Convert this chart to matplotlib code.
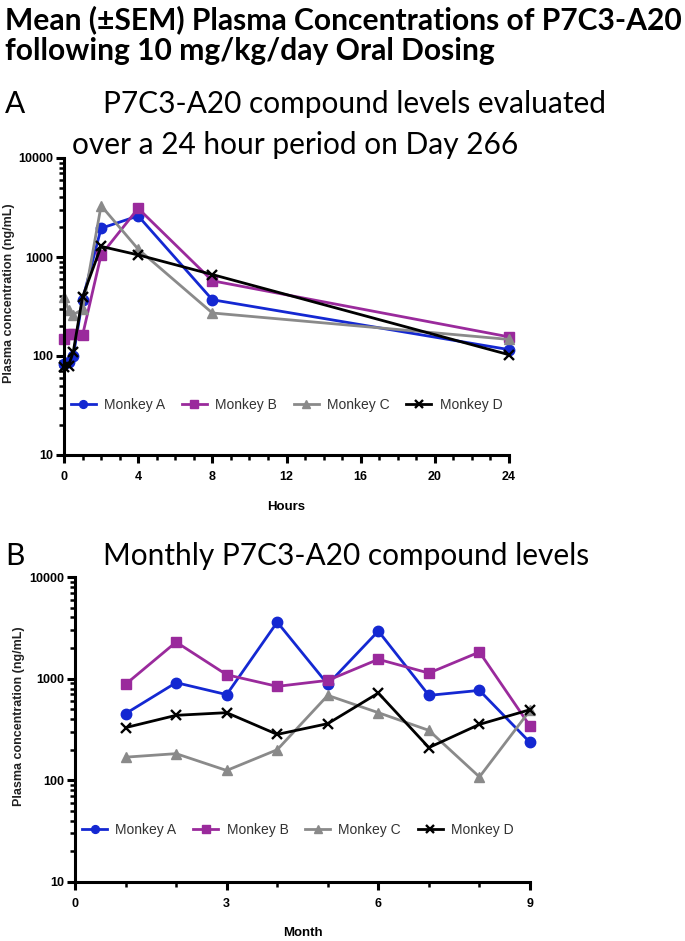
import matplotlib
matplotlib.use("Agg")
import matplotlib.pyplot as plt
from matplotlib.ticker import LogLocator, FixedLocator, NullFormatter, MultipleLocator

# ---------------- Data ----------------
monkeys = ["Monkey A", "Monkey B", "Monkey C", "Monkey D"]

hours = [0, 0.25, 0.5, 1, 2, 4, 8, 24]
pk_a = [83, 86, 100, 370, 1950, 2600, 370, 116]
pk_b = [150, 165, 165, 162, 1050, 3100, 575, 156]
pk_c = [390, 290, 262, 295, 3300, 1200, 272, 147]
pk_d = [78, 80, 110, 395, 1280, 1050, 665, 103]

months = [1, 2, 3, 4, 5, 6, 7, 8, 9]
mo_a = [453, 914, 697, 3600, 880, 2940, 685, 767, 236]
mo_b = [880, 2290, 1093, 840, 962, 1550, 1135, 1828, 342]
mo_c = [169, 183, 125, 200, 685, 463, 310, 108, 488]
mo_d = [330, 436, 463, 283, 361, 722, 210, 355, 495]

colors = ["#1428d2", "#9a2a9c", "#8a8a8a", "#000000"]
markers = ["o", "s", "^", "x"]

fig = plt.figure(figsize=(6.85, 9.41), dpi=100)
W, H = 685, 941

def ax_at(left, top, right, bottom):
    return fig.add_axes([left / W, 1 - bottom / H, (right - left) / W, (bottom - top) / H])

def style_axis(ax, xmax, xmajor, xlabel, labelpad):
    ax.set_yscale("log")
    ax.set_ylim(10, 10000)
    ax.set_xlim(0, xmax)
    for s in ["top", "right"]:
        ax.spines[s].set_visible(False)
    for s in ["left", "bottom"]:
        ax.spines[s].set_linewidth(2.2)
    ax.yaxis.set_major_locator(FixedLocator([10, 100, 1000, 10000]))
    ax.set_yticklabels(["10", "100", "1000", "10000"])
    ax.yaxis.set_minor_locator(LogLocator(base=10, subs=range(2, 10)))
    ax.yaxis.set_minor_formatter(NullFormatter())
    ax.xaxis.set_major_locator(MultipleLocator(xmajor))
    ax.xaxis.set_minor_locator(MultipleLocator(1))
    ax.tick_params(axis="both", which="major", length=5.5, width=2.2, direction="out",
                   labelsize=9)
    ax.tick_params(axis="x", which="major", pad=6)
    ax.tick_params(axis="y", which="major", pad=2.5)
    ax.tick_params(axis="both", which="minor", length=3.5, width=1.8, direction="out")
    for lab in ax.get_xticklabels() + ax.get_yticklabels():
        lab.set_fontweight("bold")
        lab.set_fontfamily("Liberation Sans")
    ax.set_xlabel(xlabel, fontsize=9.5, fontweight="bold", family="Liberation Sans",
                  labelpad=labelpad)
    ax.patch.set_alpha(0)

def draw(ax, x, series, anchor_x):
    for name, vals, c, m in zip(monkeys, series, colors, markers):
        mew = 1 if m != "x" else 1.7
        ax.plot(x, vals, color=c, marker=m, markersize=7.5, markeredgewidth=mew,
                linewidth=2, label=name, clip_on=False)
    leg = ax.legend(loc="center", bbox_to_anchor=(anchor_x, 0.17), ncol=4, frameon=False,
                    handlelength=1.8, handletextpad=0.6, columnspacing=1.2,
                    prop={"family": "Liberation Sans", "size": 10}, markerscale=0.75)
    for t in leg.get_texts():
        t.set_color("#333333")

# ---------------- Panel A ----------------
axA = ax_at(64, 158, 509, 455)
draw(axA, hours, [pk_a, pk_b, pk_c, pk_d], 0.5)
style_axis(axA, 24, 4, "Hours", 13)
fig.text(9 / W, 1 - 293 / H, "Plasma concentration (ng/mL)", rotation=90, ha="center", va="center",
         fontsize=9, fontweight="bold", family="Liberation Sans", color="#222222")

# ---------------- Panel B ----------------
axB = ax_at(75, 577, 530, 882)
draw(axB, months, [mo_a, mo_b, mo_c, mo_d], 0.49)
style_axis(axB, 9, 3, "Month", 12.5)
fig.text(19 / W, 1 - 716 / H, "Plasma concentration (ng/mL)", rotation=90, ha="center", va="center",
         fontsize=9, fontweight="bold", family="Liberation Sans", color="#222222")

# ---------------- Titles ----------------
tfam = ["Lato", "DejaVu Sans"]
fig.text(5 / W, 1 - 20 / H, "Mean (±SEM) Plasma Concentrations of P7C3-A20", fontsize=21.6,
         fontweight="bold", family=tfam, ha="left", va="center")
fig.text(5 / W, 1 - 51 / H, "following 10 mg/kg/day Oral Dosing", fontsize=21.6,
         fontweight="bold", family=tfam, ha="left", va="center")
fig.text(5 / W, 1 - 104 / H, "A", fontsize=21.5, family=tfam, ha="left", va="center")
fig.text(103 / W, 1 - 104 / H, "P7C3-A20 compound levels evaluated", fontsize=21.5, family=tfam,
         ha="left", va="center")
fig.text(72 / W, 1 - 145 / H, "over a 24 hour period on Day 266", fontsize=21.5, family=tfam,
         ha="left", va="center")
fig.text(5 / W, 1 - 556 / H, "B", fontsize=21.5, family=tfam, ha="left", va="center")
fig.text(103 / W, 1 - 556 / H, "Monthly P7C3-A20 compound levels", fontsize=21.5, family=tfam,
         ha="left", va="center")

fig.savefig("out.png", dpi=100)
